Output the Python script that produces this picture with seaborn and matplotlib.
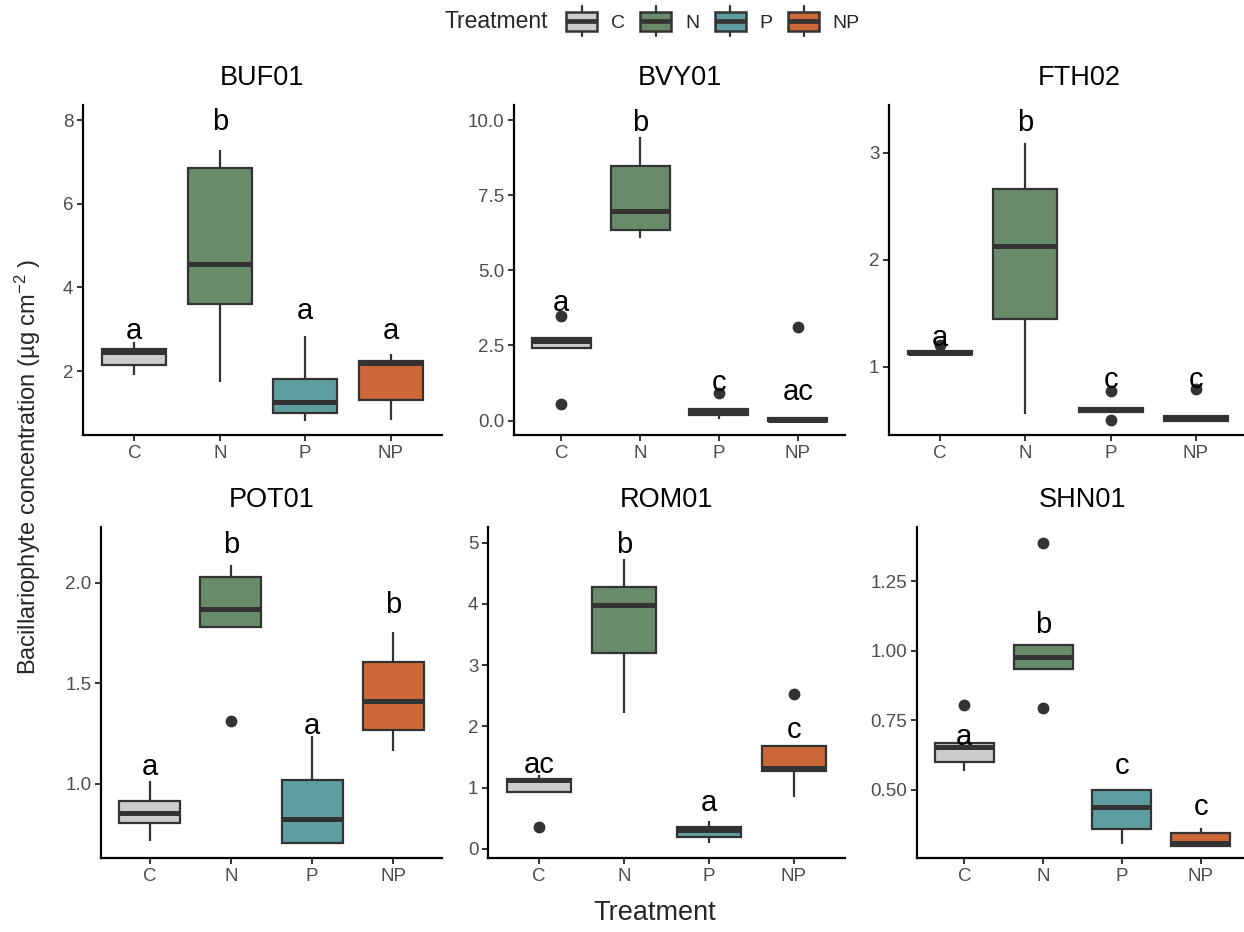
import matplotlib
matplotlib.use("Agg")
import matplotlib.pyplot as plt
import seaborn as sns
import pandas as pd
from matplotlib.legend_handler import HandlerBase
from matplotlib.patches import Rectangle
from matplotlib.lines import Line2D

# ---------------- data ----------------
treatments = ["C", "N", "P", "NP"]
sites = ["BUF01", "BVY01", "FTH02", "POT01", "ROM01", "SHN01"]

BUF01_C = [1.90, 2.135, 2.45, 2.52, 2.70]
BUF01_N = [1.73, 3.60, 4.57, 6.86, 7.28]
BUF01_P = [0.81, 1.00, 1.26, 1.80, 2.84]
BUF01_NP = [0.84, 1.31, 2.20, 2.25, 2.40]

BVY01_C = [0.55, 2.40, 2.66, 2.76, 3.49]
BVY01_N = [6.09, 6.34, 6.98, 8.47, 9.45]
BVY01_P = [0.05, 0.18, 0.28, 0.38, 0.91]
BVY01_NP = [0.00, 0.00, 0.02, 0.07, 3.13]

FTH02_C = [1.10, 1.115, 1.13, 1.145, 1.205]
FTH02_N = [0.56, 1.44, 2.13, 2.66, 3.09]
FTH02_P = [0.50, 0.575, 0.595, 0.615, 0.77]
FTH02_NP = [0.49, 0.49, 0.515, 0.535, 0.79]

POT01_C = [0.715, 0.804, 0.857, 0.914, 1.017]
POT01_N = [1.312, 1.78, 1.869, 2.028, 2.09]
POT01_P = [0.706, 0.706, 0.828, 1.02, 1.237]
POT01_NP = [1.166, 1.269, 1.411, 1.604, 1.753]

ROM01_C = [0.358, 0.93, 1.12, 1.15, 1.20]
ROM01_N = [2.215, 3.20, 3.985, 4.28, 4.73]
ROM01_P = [0.10, 0.19, 0.31, 0.36, 0.45]
ROM01_NP = [0.847, 1.265, 1.32, 1.683, 2.535]

SHN01_C = [0.569, 0.60, 0.656, 0.668, 0.807]
SHN01_N = [0.795, 0.934, 0.98, 1.021, 1.389]
SHN01_P = [0.305, 0.359, 0.44, 0.50, 0.50]
SHN01_NP = [0.297, 0.297, 0.31, 0.344, 0.363]

# significance letters and their heights
BUF01_letters = ["a", "b", "a", "a"]
BUF01_letter_y = [2.96, 7.96, 3.43, 2.96]
BVY01_letters = ["a", "b", "c", "ac"]
BVY01_letter_y = [3.90, 9.91, 1.24, 0.96]
FTH02_letters = ["a", "b", "c", "c"]
FTH02_letter_y = [1.265, 3.28, 0.87, 0.87]
POT01_letters = ["a", "b", "a", "b"]
POT01_letter_y = [1.086, 2.19, 1.29, 1.89]
ROM01_letters = ["ac", "b", "a", "c"]
ROM01_letter_y = [1.37, 4.96, 0.75, 1.95]
SHN01_letters = ["a", "b", "c", "c"]
SHN01_letter_y = [0.69, 1.095, 0.587, 0.437]

# y axis ticks
BUF01_ticks = [2, 4, 6, 8]
BUF01_ticklabels = ["2", "4", "6", "8"]
BVY01_ticks = [0, 2.5, 5, 7.5, 10]
BVY01_ticklabels = ["0.0", "2.5", "5.0", "7.5", "10.0"]
FTH02_ticks = [1, 2, 3]
FTH02_ticklabels = ["1", "2", "3"]
POT01_ticks = [1.0, 1.5, 2.0]
POT01_ticklabels = ["1.0", "1.5", "2.0"]
ROM01_ticks = [0, 1, 2, 3, 4, 5]
ROM01_ticklabels = ["0", "1", "2", "3", "4", "5"]
SHN01_ticks = [0.5, 0.75, 1.0, 1.25]
SHN01_ticklabels = ["0.50", "0.75", "1.00", "1.25"]

values = {
    "BUF01": [BUF01_C, BUF01_N, BUF01_P, BUF01_NP],
    "BVY01": [BVY01_C, BVY01_N, BVY01_P, BVY01_NP],
    "FTH02": [FTH02_C, FTH02_N, FTH02_P, FTH02_NP],
    "POT01": [POT01_C, POT01_N, POT01_P, POT01_NP],
    "ROM01": [ROM01_C, ROM01_N, ROM01_P, ROM01_NP],
    "SHN01": [SHN01_C, SHN01_N, SHN01_P, SHN01_NP],
}
letters = {"BUF01": (BUF01_letters, BUF01_letter_y), "BVY01": (BVY01_letters, BVY01_letter_y),
           "FTH02": (FTH02_letters, FTH02_letter_y), "POT01": (POT01_letters, POT01_letter_y),
           "ROM01": (ROM01_letters, ROM01_letter_y), "SHN01": (SHN01_letters, SHN01_letter_y)}
ticks = {"BUF01": (BUF01_ticks, BUF01_ticklabels), "BVY01": (BVY01_ticks, BVY01_ticklabels),
         "FTH02": (FTH02_ticks, FTH02_ticklabels), "POT01": (POT01_ticks, POT01_ticklabels),
         "ROM01": (ROM01_ticks, ROM01_ticklabels), "SHN01": (SHN01_ticks, SHN01_ticklabels)}

# ---------------- styling ----------------
colors = ["#CCCCCC", "#698B69", "#5F9EA0", "#CD6839"]
palette = dict(zip(treatments, colors))
LINE = "#333333"

sns.set_theme(style="ticks")
plt.rcParams["font.family"] = ["Liberation Sans", "DejaVu Sans"]
plt.rcParams["mathtext.fontset"] = "custom"
plt.rcParams["mathtext.rm"] = "Liberation Sans"
plt.rcParams["mathtext.it"] = "Liberation Sans:italic"

W, H = 1244, 932
fig = plt.figure(figsize=(W / 100, H / 100), dpi=100)

# panel boxes in pixels: (left, right, top, bottom)
panel_px = {
    "BUF01": (83, 442, 105, 435),
    "BVY01": (514, 845, 105, 435),
    "FTH02": (889, 1247, 105, 435),
    "POT01": (101, 442, 527, 858),
    "ROM01": (488, 845, 527, 858),
    "SHN01": (917, 1248, 527, 858),
}
title_dx = {"BUF01": 0, "BVY01": 0, "FTH02": 11, "POT01": 0, "ROM01": 0, "SHN01": 0}
ylims = {
    "BUF01": (0.47, 8.36),
    "BVY01": (-0.48, 10.5),
    "FTH02": (0.36, 3.445),
    "POT01": (0.632, 2.277),
    "ROM01": (-0.147, 5.255),
    "SHN01": (0.255, 1.446),
}

for site in sites:
    l, r, t, b = panel_px[site]
    ax = fig.add_axes([l / W, 1 - b / H, (r - l) / W, (b - t) / H])
    rows = []
    for tr, vals in zip(treatments, values[site]):
        for v in vals:
            rows.append((tr, v))
    df = pd.DataFrame(rows, columns=["Treatment", "value"])
    sns.boxplot(
        data=df, x="Treatment", y="value", hue="Treatment",
        order=treatments, hue_order=treatments, palette=palette, saturation=1,
        width=0.75, linewidth=1.6, linecolor=LINE, legend=False, ax=ax,
        showcaps=False, whis=1.5,
        medianprops={"linewidth": 3.6, "color": LINE, "solid_capstyle": "butt"},
        whiskerprops={"linewidth": 1.6, "color": LINE},
        boxprops={"linewidth": 1.6, "edgecolor": LINE},
        flierprops={"marker": "o", "markerfacecolor": LINE, "markeredgecolor": LINE,
                    "markersize": 7.5},
    )
    labs, ly = letters[site]
    for i, (lab, y) in enumerate(zip(labs, ly)):
        ax.text(i, y, lab, ha="center", va="center", fontsize=21, color="black")
    ax.set_xlim(-0.6, 3.6)
    ax.set_ylim(*ylims[site])
    tk, tl = ticks[site]
    ax.set_yticks(tk)
    ax.set_yticklabels(tl)
    ax.set_xlabel("")
    ax.set_ylabel("")
    for s in ["top", "right"]:
        ax.spines[s].set_visible(False)
    for s in ["left", "bottom"]:
        ax.spines[s].set_linewidth(1.6)
        ax.spines[s].set_color("black")
    ax.tick_params(axis="both", length=4, width=1.4, color=LINE,
                   labelsize=13.5, labelcolor="#4D4D4D", pad=3)
    ax.text(0.5 + title_dx[site] / (r - l), 1 + 27 / (b - t), site, transform=ax.transAxes,
            ha="center", va="center", fontsize=19.5, color="black")
    ax.patch.set_alpha(0)


# ---------------- legend with boxplot glyphs ----------------
class BoxHandler(HandlerBase):
    def create_artists(self, legend, orig_handle, xdescent, ydescent, width, height,
                       fontsize, trans):
        x0, y0 = -xdescent, -ydescent
        bh = height
        by = y0
        rect = Rectangle((x0, by), width, bh, facecolor=orig_handle.get_facecolor(),
                         edgecolor=LINE, linewidth=1.8, transform=trans)
        med = Line2D([x0, x0 + width], [y0 + height / 2] * 2, color=LINE,
                     linewidth=3.4, transform=trans, solid_capstyle="butt")
        xm = x0 + width / 2
        w1 = Line2D([xm, xm], [by + bh, y0 + height * 1.3], color=LINE,
                    linewidth=1.6, transform=trans)
        w2 = Line2D([xm, xm], [y0 - height * 0.3, by], color=LINE,
                    linewidth=1.6, transform=trans)
        return [w1, w2, rect, med]


handles = [Rectangle((0, 0), 1, 1, facecolor=c) for c in colors]
fig.legend(handles, treatments, handler_map={Rectangle: BoxHandler()},
           loc="center left", bbox_to_anchor=(566 / W, 1 - 22 / H), ncol=4,
           frameon=False, fontsize=14, handlelength=1.6, handleheight=1.1,
           handletextpad=0.7, columnspacing=0.8, borderpad=0, borderaxespad=0)
fig.text(548 / W, 1 - 22 / H, "Treatment", ha="right", va="center", fontsize=16.5)

fig.text(655 / W, 1 - 913 / H, "Treatment", ha="center", va="center", fontsize=19.5)
fig.text(28 / W, 1 - 467 / H, r"Bacillariophyte concentration (µg cm$^{-2}$ )",
         rotation=90, ha="center", va="center", fontsize=17)

fig.savefig("out.png", dpi=100)
